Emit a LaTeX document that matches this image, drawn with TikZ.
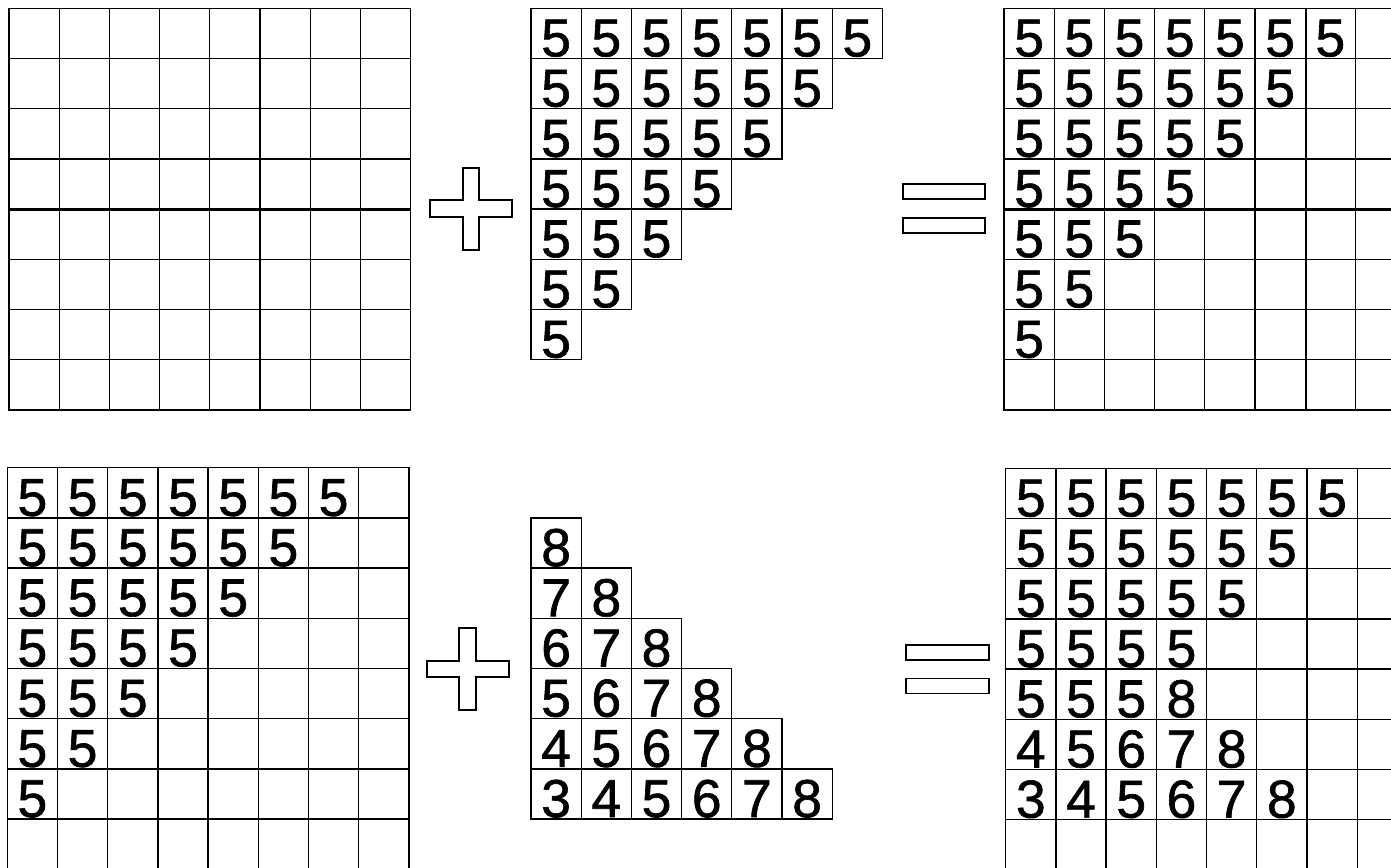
\documentclass[tikz,border=0pt]{standalone}
\usepackage{fontspec}
\setmainfont{Liberation Sans}
\newfontfamily\digitfont[RawFeature={embolden=1.2}]{Liberation Sans}
\tikzset{
  cell/.style={rectangle, draw=black, minimum size=12.55mm, inner sep=0pt,
    line width=0.9pt},
  num/.style={font=\digitfont\fontsize{38}{40}\selectfont, inner sep=0pt, anchor=base},
  sign/.style={draw=black, line width=1.4pt, line join=miter},
  bar/.style={rectangle, draw=black, line width=1.4pt, inner sep=0pt,
    minimum width=20.6mm, minimum height=3.75mm},
  midline/.style={draw=black, line width=1.6pt}
}

\begin{document}
\begin{tikzpicture}[x=12.55mm, y=12.55mm]
  \useasboundingbox (0,0) rectangle (27.709,-17.271);
  \clip (0,0) rectangle (27.709,-17.271);

  % the four full 8x8 grids
  \foreach \g/\gx/\gy in {tl/0.179/-0.165, tr/20.0/-0.165, bl/0.145/-9.317, br/20.034/-9.329}
    \foreach \r in {1,...,8}
      \foreach \c in {1,...,8}
        \node[cell] (\g-\r-\c) at (\gx+\c-0.5, \gy-\r+0.5) {};

  % heavier lines seen in the top grids
  \draw[midline] (tl-4-1.south west) -- (tl-4-8.south east);
  \draw[midline] (tr-4-1.south west) -- (tr-4-8.south east);
  \draw[midline] (tr-1-6.north east) -- (tr-8-6.south east);

  % staircase of fives in the grids
  \foreach \g in {tr, bl}
    \foreach \row [count=\r] in {{5,5,5,5,5,5,5},{5,5,5,5,5,5},{5,5,5,5,5},{5,5,5,5},{5,5,5},{5,5},{5}}
      \foreach \d [count=\c] in \row
        \node[num] (\g-n-\r-\c) at ([yshift=0.68mm]\g-\r-\c.south) {\d};

  \foreach \row [count=\r] in {{5,5,5,5,5,5,5},{5,5,5,5,5,5},{5,5,5,5,5},{5,5,5,5},{5,5,5,8},{4,5,6,7,8},{3,4,5,6,7,8}}
    \foreach \d [count=\c] in \row
      \node[num] (br-n-\r-\c) at ([yshift=0.68mm]br-\r-\c.south) {\d};

  % top triangle of fives
  \foreach \r [evaluate=\r as \n using int(8-\r)] in {1,...,7}
    \foreach \c in {1,...,\n} {
      \node[cell] (tm-\r-\c) at (10.578+\c-0.5, -0.165-\r+0.5) {};
      \node[num] (tm-n-\r-\c) at ([yshift=0.68mm]tm-\r-\c.south) {5};
    }

  % bottom triangle 3..8
  \foreach \r [evaluate=\r as \n using int(\r-1)] in {2,...,7}
    \foreach \c in {1,...,\n} {
      \pgfmathtruncatemacro\d{9-\r+\c}
      \node[cell] (bm-\r-\c) at (10.578+\c-0.5, -9.317-\r+0.5) {};
      \node[num] (bm-n-\r-\c) at ([yshift=0.68mm]bm-\r-\c.south) {\d};
    }

  % plus signs
  \foreach \px/\py in {9.383/-4.157, 9.317/-13.327}
    \draw[sign, shift={(\px,\py)}] (0.165,0.82) -- (0.165,0.165) -- (0.82,0.165)
      -- (0.82,-0.165) -- (0.165,-0.165) -- (0.165,-0.82) -- (-0.165,-0.82)
      -- (-0.165,-0.165) -- (-0.82,-0.165) -- (-0.82,0.165) -- (-0.165,0.165)
      -- (-0.165,0.82) -- cycle;

  % equals signs
  \node[bar] (eqtop-a) at (18.809,-3.818) {};
  \node[bar] (eqtop-b) at (18.809,-4.498) {};
  \node[bar] (eqbot-a) at (18.875,-12.991) {};
  \node[bar] (eqbot-b) at (18.875,-13.665) {};
\end{tikzpicture}
\end{document}
